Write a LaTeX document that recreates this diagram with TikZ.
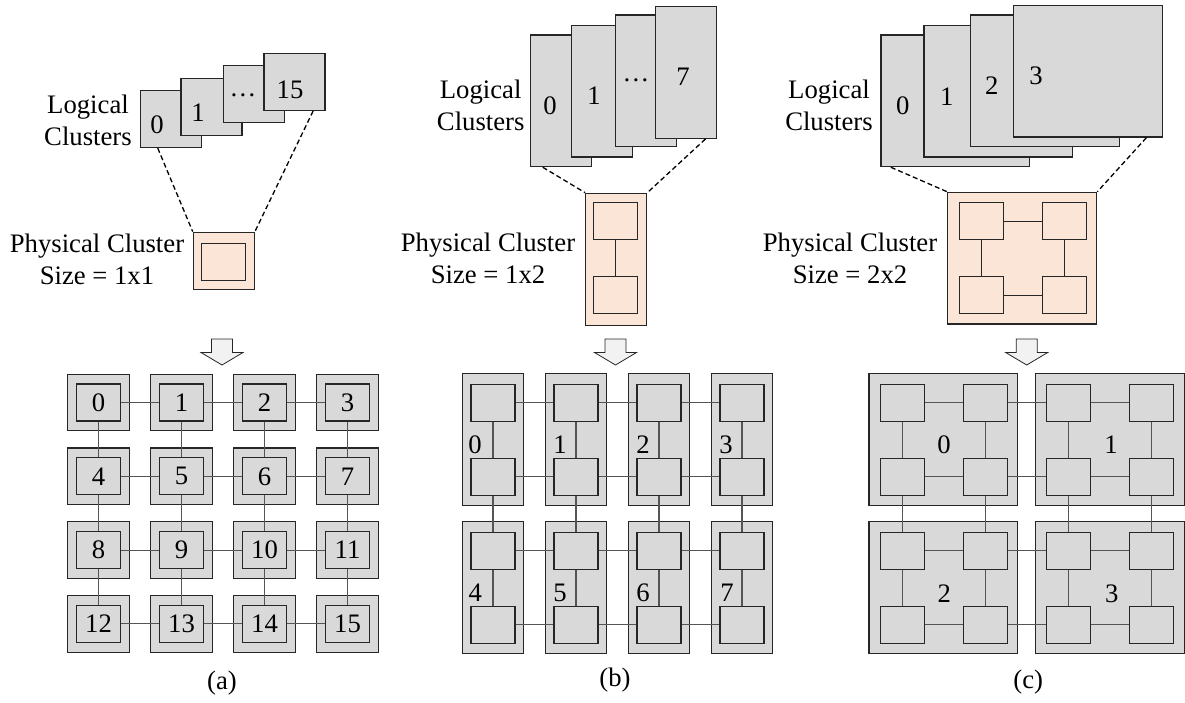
\documentclass[tikz,border=0pt]{standalone}
\usepackage{fontspec}
\setmainfont{Liberation Serif}
\newfontfamily\figfont{Liberation Serif}
\definecolor{boxgray}{RGB}{217,217,217}
\definecolor{peach}{RGB}{251,229,214}
\definecolor{arrowgray}{RGB}{242,242,242}
\definecolor{edgegray}{RGB}{38,38,38}
\definecolor{linkgray}{RGB}{85,85,85}
\usetikzlibrary{positioning,calc}

\tikzset{
  lcluster/.style={draw=edgegray, fill=boxgray, line width=1.2pt, inner sep=0pt},
  pcluster/.style={draw=edgegray, fill=peach, line width=1.2pt, inner sep=0pt},
  core/.style={draw=edgegray, line width=1.2pt, inner sep=0pt, minimum width=44pt, minimum height=37pt},
  link/.style={draw=linkgray, line width=1.1pt},
  mapline/.style={draw=black, line width=1.3pt, dash pattern=on 5pt off 3pt},
  flowarrow/.style={draw=edgegray, fill=arrowgray, line width=0.8pt, line join=miter},
  num/.style={inner sep=0pt}
}

\begin{document}
\begin{tikzpicture}[x=1pt,y=1pt,yscale=-1,
  every node/.append style={font=\figfont\fontsize{26.7}{32}\selectfont}]
\useasboundingbox (0,0) rectangle (1185,702);

%% ---------------- (a) ----------------
% Logical clusters
\node[lcluster, minimum width=61pt, minimum height=57pt] (la0) at (170.8,119) {};
\node[lcluster, minimum width=61pt, minimum height=57pt] (la1) at (211.5,107.3) {};
\node[lcluster, minimum width=61pt, minimum height=57pt] (la2) at (254,94.3) {};
\node[lcluster, minimum width=61pt, minimum height=57pt] (la3) at (294.5,81.8) {};
% Text Node
\node[num] (la0n) at (157,125) {0};
\node[num] (la1n) at (198,113) {1};
\node[num] (la2n) at (243,95) {\dots};
\node[num] (la3n) at (290,90) {15};
\node[align=center, inner sep=0pt] (lta) at (88,120) {Logical\\Clusters};
% Physical cluster
\node[pcluster, minimum width=61pt, minimum height=57pt] (pa) at (223.8,260.7) {};
\node[core, fill=peach] (pa0) at (223.7,261.7) {};
\node[align=center, inner sep=0pt] (pta) at (97,259) {Physical Cluster\\Size = 1x1};
% Mapping lines
\draw[mapline] ($(la0.south west)!0.29!(la0.south east)$) -- (pa.north west);
\draw[mapline] ($(la3.south west)!0.8!(la3.south east)$) -- (pa.north east);

%% ---------------- (b) ----------------
\node[lcluster, minimum width=61pt, minimum height=131.7pt] (lb0) at (560.8,100.8) {};
\node[lcluster, minimum width=61pt, minimum height=131.7pt] (lb1) at (601.7,91.2) {};
\node[lcluster, minimum width=61pt, minimum height=131.7pt] (lb2) at (646,80.8) {};
\node[lcluster, minimum width=61pt, minimum height=131.7pt] (lb3) at (686.2,72.5) {};
% Text Node
\node[num] (lb0n) at (550,106) {0};
\node[num] (lb1n) at (594,96) {1};
\node[num] (lb2n) at (636,80) {\dots};
\node[num] (lb3n) at (683,77) {7};
\node[align=center, inner sep=0pt] (ltb) at (480.7,105) {Logical\\Clusters};
% Physical cluster
\node[pcluster, minimum width=61pt, minimum height=132.4pt] (pb) at (616.2,259.5) {};
\node[core, fill=peach] (pb0) at (615.3,221) {};
\node[core, fill=peach] (pb1) at (615.3,295.3) {};
\draw[edgegray, line width=1.1pt] (pb0) -- (pb1);
\node[align=center, inner sep=0pt] (ptb) at (488,258) {Physical Cluster\\Size = 1x2};
% Mapping lines
\draw[mapline] ($(lb0.south west)!0.21!(lb0.south east)$) -- (pb.north west);
\draw[mapline] ($(lb3.south west)!0.81!(lb3.south east)$) -- (pb.north east);

%% ---------------- (c) ----------------
\node[lcluster, minimum width=148.5pt, minimum height=131.7pt] (lc0) at (955.2,100.8) {};
\node[lcluster, minimum width=148.5pt, minimum height=131.7pt] (lc1) at (998.3,91.2) {};
\node[lcluster, minimum width=148.5pt, minimum height=131.7pt] (lc2) at (1045,80.8) {};
\node[lcluster, minimum width=148.5pt, minimum height=131.7pt] (lc3) at (1088,71.2) {};
% Text Node
\node[num] (lc0n) at (902.7,106) {0};
\node[num] (lc1n) at (946.7,96.7) {1};
\node[num] (lc2n) at (991.7,86) {2};
\node[num] (lc3n) at (1036,76) {3};
\node[align=center, inner sep=0pt] (ltc) at (829,105) {Logical\\Clusters};
% Physical cluster
\node[pcluster, minimum width=149pt, minimum height=131.7pt] (pc) at (1022.2,258.2) {};
\node[core, fill=peach] (pc00) at (981.7,221.3) {};
\node[core, fill=peach] (pc01) at (1064.7,221.3) {};
\node[core, fill=peach] (pc10) at (981.7,295.3) {};
\node[core, fill=peach] (pc11) at (1064.7,295.3) {};
\draw[edgegray, line width=1.1pt] (pc00) -- (pc01) (pc10) -- (pc11) (pc00) -- (pc10) (pc01) -- (pc11);
\node[align=center, inner sep=0pt] (ptc) at (850,258) {Physical Cluster\\Size = 2x2};
% Mapping lines
\draw[mapline] ($(lc0.south west)!0.07!(lc0.south east)$) -- (pc.north west);
\draw[mapline] ($(lc3.south west)!0.89!(lc3.south east)$) -- (pc.north east);

%% ---------------- block arrows ----------------
\foreach \ax in {222,615.5,1026.7}{
  \draw[flowarrow] (\ax-10.5,339) -- (\ax+10.5,339) -- (\ax+10.5,352.5) -- (\ax+21,352.5)
    -- (\ax,365) -- (\ax-21,352.5) -- (\ax-10.5,352.5) -- cycle;
}

%% ---------------- meshes ----------------
% (a) one core per tile
\foreach \r in {0,...,3}{
  \foreach \c in {0,...,3}{
    \pgfmathtruncatemacro{\n}{4*\r+\c}
    \node[lcluster, minimum width=61.6pt, minimum height=56.7pt] (ta\r\c) at (98.5+83*\c,402.5+73.8*\r) {};
    \node[core, fill=boxgray] (ga\r\c) at (ta\r\c) {\n};
  }
}
% (b) two cores per tile
\foreach \r in {0,1}{
  \foreach \c in {0,...,3}{
    \node[lcluster, minimum width=60.7pt, minimum height=131.7pt] (tb\r\c) at (493+83*\c,439.7+148*\r) {};
  }
}
\foreach \r in {0,...,3}{
  \foreach \c in {0,...,3}{
    \node[core, fill=boxgray] (gb\r\c) at (493+83*\c,402.7+74*\r) {};
  }
}
\foreach \n/\x/\y in {0/475/445, 1/560/445, 2/643/445, 3/726/445,
                      4/475.3/592.5, 5/560/592.5, 6/643/592.5, 7/727/592.5}{
  \node[num] (tbn\n) at (\x,\y) {\n};
}
% (c) four cores per tile
\foreach \r in {0,1}{
  \foreach \c in {0,1}{
    \node[lcluster, minimum width=148.7pt, minimum height=132pt] (tc\r\c) at (943.3+166.7*\c,439.7+148*\r) {};
  }
}
\foreach \r in {0,...,3}{
  \foreach \c in {0,...,3}{
    \node[core, fill=boxgray] (gc\r\c) at (902.7+82.9*\c,402.7+74*\r) {};
  }
}
\foreach \n/\x/\y in {0/944/445, 1/1111/445, 2/944.3/593.3, 3/1111.7/593.3}{
  \node[num] (tcn\n) at (\x,\y) {\n};
}
% links of the three meshes
\foreach \m in {a,b,c}{
  \foreach \r in {0,...,3}{
    \foreach \c [evaluate=\c as \d using int(\c+1)] in {0,1,2}{
      \draw[link] (g\m\r\c) -- (g\m\r\d);
      \draw[link] (g\m\c\r) -- (g\m\d\r);
    }
  }
}

% Text Node
\node (capa) at (222,683) {(a)};
\node (capb) at (615,680) {(b)};
\node (capc) at (1028.3,681.7) {(c)};
\end{tikzpicture}
\end{document}
